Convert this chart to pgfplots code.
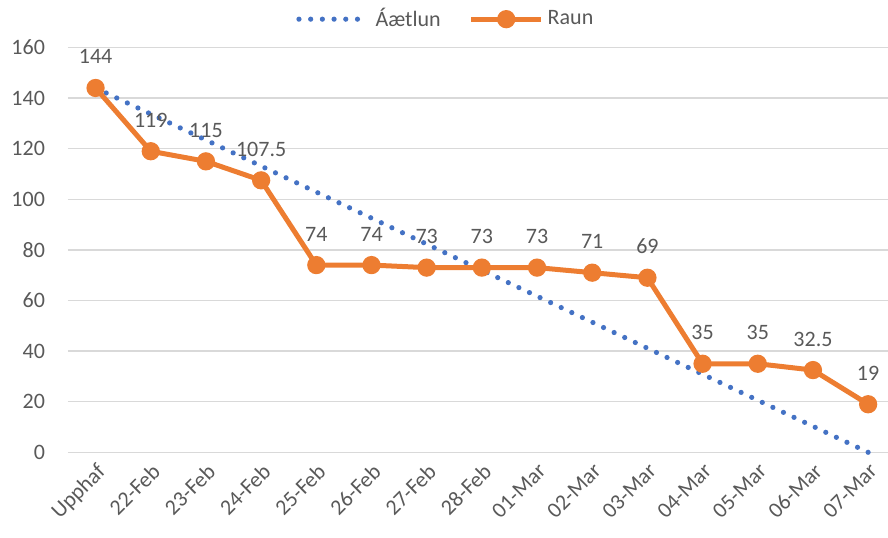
\documentclass[border=0pt]{standalone}
\usepackage{fontspec}
\setmainfont{Carlito}
\usepackage{pgfplots}
\pgfplotsset{compat=1.18}
\definecolor{xlblue}{HTML}{4472C4}
\definecolor{xlorange}{HTML}{ED7D31}
\definecolor{xlgrid}{HTML}{D9D9D9}
\definecolor{xltext}{HTML}{595959}

\begin{document}
\begin{tikzpicture}
\begin{axis}[
  scale only axis,
  width=410pt, height=202.4pt,
  xmin=-0.5, xmax=14.36,
  ymin=0, ymax=160,
  ytick={0,20,...,160},
  xtick={0,...,14},
  xticklabels={Upphaf,22-Feb,23-Feb,24-Feb,25-Feb,26-Feb,27-Feb,28-Feb,
               01-Mar,02-Mar,03-Mar,04-Mar,05-Mar,06-Mar,07-Mar},
  axis line style={draw=none},
  tick style={draw=none},
  ymajorgrids,
  grid style={xlgrid, line width=0.75pt},
  font=\fontsize{11}{13}\selectfont,
  tick label style={text=xltext},
  xticklabel style={rotate=45, anchor=north east},
  yticklabel style={xshift=-8pt},
  /pgf/number format/assume math mode=true,
  legend style={at={(0.462,1.07)}, anchor=center, draw=none, fill=none,
                legend columns=2, text=xltext,
                /tikz/every even column/.append style={column sep=12pt}},
  legend image code/.code={\draw[mark repeat=2,mark phase=2,#1]
      plot coordinates {(0pt,0pt) (17.5pt,0pt) (35pt,0pt)};},
  clip=false,
]

%% plan (Áætlun)
\addplot[xlblue, line width=2.6pt, line cap=round,
         dash pattern=on 0pt off 5.85pt, no markers]
  coordinates {
    (0,144) (1,133.71) (2,123.43) (3,113.14) (4,102.86) (5,92.57)
    (6,82.29) (7,72) (8,61.71) (9,51.43) (10,41.14) (11,30.86)
    (12,20.57) (13,10.29) (14,0)
  };
\addlegendentry{Áætlun}

%% actual (Raun)
\addplot[xlorange, line width=2.5pt, mark=*, mark size=3.3pt,
         mark options={solid, fill=xlorange, draw=none},
         nodes near coords,
         every node near coord/.append style={anchor=base, yshift=12pt,
                                              text=xltext}]
  coordinates {
    (0,144) (1,119) (2,115) (3,107.5) (4,74) (5,74) (6,73) (7,73)
    (8,73) (9,71) (10,69) (11,35) (12,35) (13,32.5) (14,19)
  };
\addlegendentry{Raun}

\end{axis}
\pgfresetboundingbox
\path[use as bounding box] (current axis.south west) ++(-34pt,-42.35pt)
  rectangle ++(444pt,268.5pt);
\end{tikzpicture}
\end{document}
